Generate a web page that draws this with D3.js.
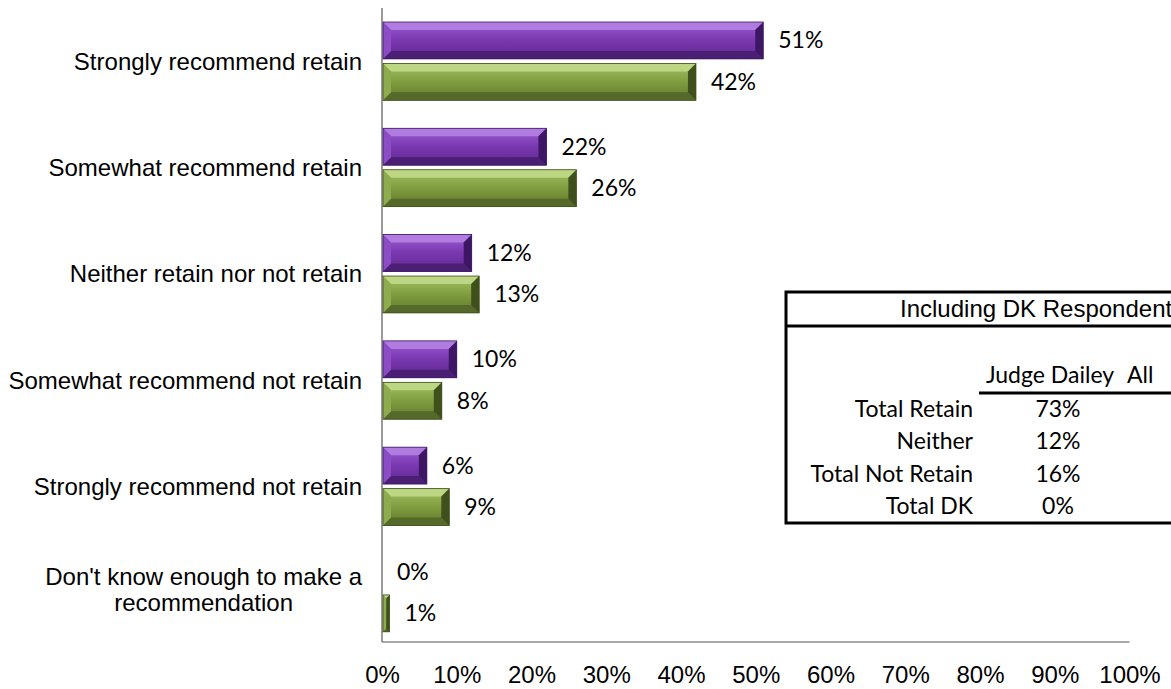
<!DOCTYPE html>
<html>
<head>
<meta charset="utf-8">
<script src="https://cdn.jsdelivr.net/npm/d3@7"></script>
<style>
  body { margin: 0; background: #fff; }
  svg { display: block; }
</style>
</head>
<body>
<svg id="chart"></svg>
<script>
const categories = [
  "Strongly recommend retain",
  "Somewhat recommend retain",
  "Neither retain nor not retain",
  "Somewhat recommend not retain",
  "Strongly recommend not retain",
  "Don't know enough to make a recommendation"
];
const series = ["Judge Dailey", "All Judges"];
const dailey = [0.51, 0.22, 0.12, 0.10, 0.06, 0.00];
const allJudges = [0.42, 0.26, 0.13, 0.08, 0.09, 0.01];
const ticks = [0, 0.1, 0.2, 0.3, 0.4, 0.5, 0.6, 0.7, 0.8, 0.9, 1.0];

const tableTitle = "Including DK Respondents";
const tableCols = ["Judge Dailey", "All"];
const tableRows = ["Total Retain", "Neither", "Total Not Retain", "Total DK"];
const tableDailey = ["73%", "12%", "16%", "0%"];

const width = 1171;
const height = 689;

const svg = d3.select("#chart")
  .attr("width", width)
  .attr("height", height);

const arial = "'Liberation Sans', Arial, sans-serif";
const calibri = "Lato, 'Open Sans', sans-serif";

const x = d3.scaleLinear().domain([0, 1]).range([382, 1129.5]);
const y0 = d3.scaleBand().domain(categories).range([8, 645.8])
  .paddingInner(0.263).paddingOuter(0.1317);
const y1 = d3.scaleBand().domain(series).range([0, y0.bandwidth()]).paddingInner(0.11);

const palette = {
  "Judge Dailey": { top: "#b07ce0", left: "#8c4cc4", right: "#3d1763", bottom: "#4b1f74",
    face: ["#9a5cd2", "#7a38b0", "#5e278e"], stroke: "#3a1560" },
  "All Judges": { top: "#bcd684", left: "#8fab50", right: "#3f501c", bottom: "#55692a",
    face: ["#a6c266", "#7f9c3f", "#63792c"], stroke: "#3c4c1a" }
};

const defs = svg.append("defs");
series.forEach((s, i) => {
  const grad = defs.append("linearGradient")
    .attr("id", "face" + i)
    .attr("x1", 0).attr("y1", 0).attr("x2", 0).attr("y2", 1);
  grad.append("stop").attr("offset", "0%").attr("stop-color", palette[s].face[0]);
  grad.append("stop").attr("offset", "50%").attr("stop-color", palette[s].face[1]);
  grad.append("stop").attr("offset", "100%").attr("stop-color", palette[s].face[2]);
});

const rows = categories.map((c, i) => ({
  cat: c,
  bars: [
    { s: series[0], v: dailey[i], idx: 0 },
    { s: series[1], v: allJudges[i], idx: 1 }
  ]
}));

// axis lines
svg.append("line")
  .attr("x1", x(0)).attr("x2", x(0))
  .attr("y1", 8).attr("y2", 642)
  .attr("stroke", "#9a9a9a").attr("stroke-width", 2);

svg.append("line")
  .attr("x1", x(0)).attr("x2", x(1))
  .attr("y1", 642).attr("y2", 642)
  .attr("stroke", "#555").attr("stroke-width", 1.2);

// bevelled bars
const groups = svg.selectAll("g.cat")
  .data(rows)
  .enter()
  .append("g")
  .attr("class", "cat")
  .attr("transform", d => `translate(0,${y0(d.cat)})`);

groups.each(function(d) {
  const g = d3.select(this);
  d.bars.forEach(b => {
    const x0 = x(0) + 1;
    const x1 = x(b.v);
    const top = y1(b.s);
    const h = y1.bandwidth();
    const bot = top + h;
    const w = x1 - x0;
    const p = palette[b.s];
    if (w > 0) {
      const bv = Math.min(8, w / 2, h / 2);
      const bar = g.append("g");
      bar.append("rect")
        .attr("x", x0).attr("y", top).attr("width", w).attr("height", h)
        .attr("fill", `url(#face${b.idx})`);
      bar.append("polygon")
        .attr("points", [[x0, top], [x1, top], [x1 - bv, top + bv], [x0 + bv, top + bv]].join(" "))
        .attr("fill", p.top);
      bar.append("polygon")
        .attr("points", [[x0, bot], [x1, bot], [x1 - bv, bot - bv], [x0 + bv, bot - bv]].join(" "))
        .attr("fill", p.bottom);
      bar.append("polygon")
        .attr("points", [[x0, top], [x0 + bv, top + bv], [x0 + bv, bot - bv], [x0, bot]].join(" "))
        .attr("fill", p.left);
      bar.append("polygon")
        .attr("points", [[x1, top], [x1 - bv, top + bv], [x1 - bv, bot - bv], [x1, bot]].join(" "))
        .attr("fill", p.right);
      bar.append("rect")
        .attr("x", x0).attr("y", top).attr("width", w).attr("height", h)
        .attr("fill", "none").attr("stroke", p.stroke).attr("stroke-width", 0.8);
    }
    // value label
    g.append("text")
      .attr("x", x1 + 15)
      .attr("y", top + h / 2 + 8)
      .attr("font-family", calibri)
      .attr("font-size", 23)
      .attr("fill", "#000")
      .text(Math.round(b.v * 100) + "%");
  });
});

// category labels (wrapped, centred on longest line, right edge at 362)
const wrapLines = {
  "Don't know enough to make a recommendation": ["Don't know enough to make a", "recommendation"]
};
groups.each(function(d) {
  const g = d3.select(this);
  const lines = wrapLines[d.cat] || [d.cat];
  const t = g.append("text")
    .attr("font-family", arial)
    .attr("font-size", 24)
    .attr("fill", "#000")
    .attr("text-anchor", "middle");
  const mid = y0.bandwidth() / 2;
  const lh = 26;
  lines.forEach((ln, i) => {
    t.append("tspan")
      .attr("y", mid + 8.5 + (i - (lines.length - 1) / 2) * lh - (lines.length > 1 ? 3 : 0))
      .text(ln);
  });
  let maxW = 0;
  t.selectAll("tspan").each(function() { maxW = Math.max(maxW, this.getComputedTextLength()); });
  t.selectAll("tspan").attr("x", 362 - maxW / 2);
});

// x axis tick labels
const xAxis = d3.axisBottom(x)
  .tickValues(ticks)
  .tickSize(0)
  .tickFormat(d => Math.round(d * 100) + "%");

const axisG = svg.append("g")
  .attr("transform", "translate(0,683)")
  .call(xAxis);
axisG.select(".domain").remove();
axisG.selectAll("text")
  .attr("y", 0).attr("dy", 0)
  .attr("font-family", arial)
  .attr("font-size", 24)
  .attr("fill", "#000");

// inset table
const tbl = svg.append("g");
tbl.append("rect")
  .attr("x", 786).attr("y", 292)
  .attr("width", 500).attr("height", 231)
  .attr("fill", "#fff").attr("stroke", "#000").attr("stroke-width", 3);
tbl.append("line")
  .attr("x1", 786).attr("x2", 1200)
  .attr("y1", 326).attr("y2", 326)
  .attr("stroke", "#000").attr("stroke-width", 3);
tbl.append("text")
  .attr("x", 900).attr("y", 317)
  .attr("font-family", arial).attr("font-size", 24)
  .text(tableTitle);

tbl.append("text")
  .attr("x", 1050).attr("y", 383)
  .attr("text-anchor", "middle")
  .attr("font-family", calibri).attr("font-size", 23)
  .text(tableCols[0]);
tbl.append("text")
  .attr("x", 1127).attr("y", 383)
  .attr("font-family", calibri).attr("font-size", 23)
  .text(tableCols[1]);
tbl.append("line")
  .attr("x1", 979).attr("x2", 1200)
  .attr("y1", 393).attr("y2", 393)
  .attr("stroke", "#000").attr("stroke-width", 3);

const rowY = d3.scalePoint().domain(tableRows).range([417, 514]);
tbl.selectAll("text.rowlab")
  .data(tableRows)
  .enter()
  .append("text")
  .attr("class", "rowlab")
  .attr("x", 973)
  .attr("y", d => rowY(d))
  .attr("text-anchor", "end")
  .attr("font-family", calibri).attr("font-size", 23)
  .text(d => d);
tbl.selectAll("text.rowval")
  .data(tableRows)
  .enter()
  .append("text")
  .attr("class", "rowval")
  .attr("x", 1058)
  .attr("y", d => rowY(d))
  .attr("text-anchor", "middle")
  .attr("font-family", calibri).attr("font-size", 23)
  .text((d, i) => tableDailey[i]);
</script>
</body>
</html>
